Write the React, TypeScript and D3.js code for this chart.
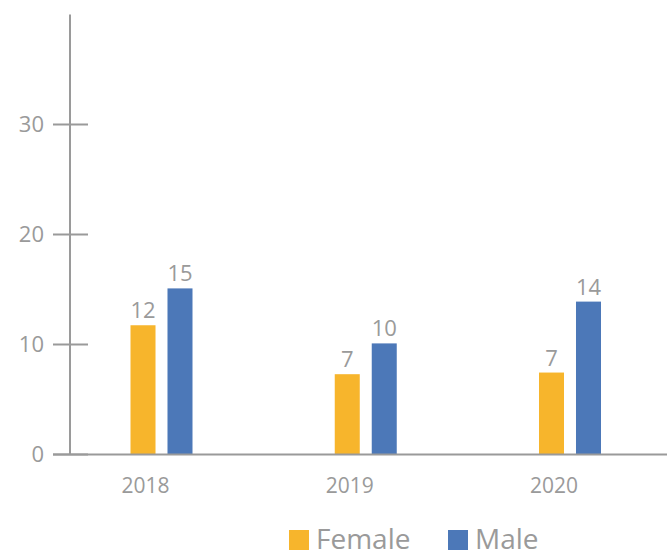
import * as d3 from 'd3'

const YEARS = ['2018', '2019', '2020']
const FEMALE = [11.75, 7.3, 7.45]
const MALE = [15.1, 10.1, 13.9]
const SERIES = ['Female', 'Male']
const Y_TICKS = [0, 10, 20, 30]

const COLORS: Record<string, string> = {
  Female: '#F7B52C',
  Male: '#4C78B8',
}

const W = 667
const H = 554
const GREY = '#9a9a9a'
const FONT = '"Open Sans", "Noto Sans", sans-serif'

export default function App() {
  const y = d3.scaleLinear().domain([0, 40]).range([454.5, 14.5])

  // category label positions
  const x = d3.scalePoint().domain(YEARS).range([145.5, 554])
  // bars sit a bit right of the category labels
  const groupShift = 16
  const inner = d3.scaleBand().domain(SERIES).range([-31, 31]).paddingInner(0.324)

  const fmt = d3.format('.0f')

  const rows = YEARS.map((year, i) => ({ year, Female: FEMALE[i], Male: MALE[i] }))

  return (
    <svg
      width={W}
      height={H}
      style={{ position: 'absolute', left: 0, top: 0, display: 'block', background: '#fff' }}
      fontFamily={FONT}
    >
      {/* y axis */}
      <line x1={70} x2={70} y1={y(40)} y2={y(0)} stroke={GREY} strokeWidth={2} />
      {Y_TICKS.map((t) => (
        <g key={t}>
          <line x1={53} x2={88} y1={y(t)} y2={y(t)} stroke={GREY} strokeWidth={2} />
          <text x={44} y={y(t)} dy="0.35em" textAnchor="end" fontSize={22} fill={GREY}>
            {t}
          </text>
        </g>
      ))}

      {/* bars + value labels */}
      {rows.map((r) => {
        const cx = (x(r.year) ?? 0) + groupShift
        return (
          <g key={r.year}>
            {SERIES.map((s) => {
              const v = (r as any)[s] as number
              const bx = cx + (inner(s) ?? 0)
              return (
                <g key={s}>
                  <rect
                    x={bx}
                    y={y(v)}
                    width={inner.bandwidth()}
                    height={y(0) - y(v)}
                    fill={COLORS[s]}
                  />
                  <text
                    x={bx + inner.bandwidth() / 2}
                    y={y(v) - 7}
                    textAnchor="middle"
                    fontSize={22}
                    fill={GREY}
                  >
                    {fmt(v)}
                  </text>
                </g>
              )
            })}
          </g>
        )
      })}

      {/* x axis */}
      <line x1={53} x2={W} y1={y(0)} y2={y(0)} stroke={GREY} strokeWidth={2} />
      {YEARS.map((yr) => (
        <text key={yr} x={x(yr)} y={493} textAnchor="middle" fontSize={21} fill={GREY}>
          {yr}
        </text>
      ))}

      {/* legend */}
      <g>
        <rect x={289} y={530} width={20} height={20} fill={COLORS.Female} />
        <text x={316} y={549} fontSize={28} fill={GREY}>Female</text>
        <rect x={448} y={530} width={20} height={20} fill={COLORS.Male} />
        <text x={475} y={549} fontSize={28} fill={GREY}>Male</text>
      </g>
    </svg>
  )
}
